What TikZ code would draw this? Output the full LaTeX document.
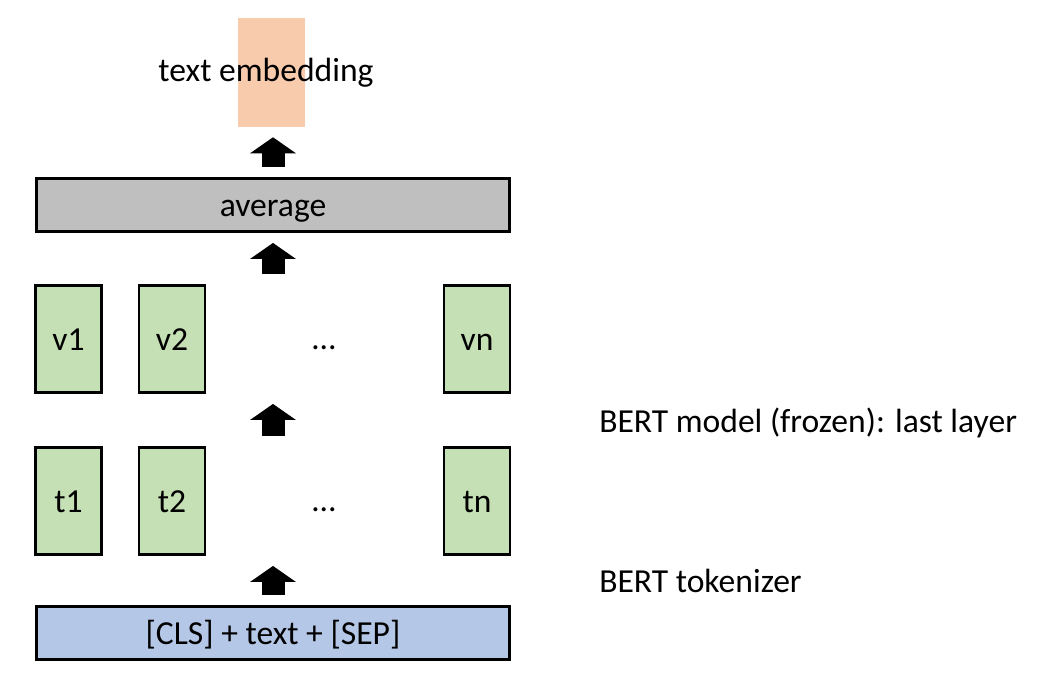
\documentclass[tikz,border=0pt]{standalone}
\usepackage{fontspec}
\setmainfont{Carlito}
\usetikzlibrary{arrows.meta}

\definecolor{avggray}{HTML}{BFBFBF}
\definecolor{tokblue}{HTML}{B4C7E7}
\definecolor{vecgreen}{HTML}{C5E0B4}
\definecolor{embpeach}{HTML}{F8CBAD}

\begin{document}
\begin{tikzpicture}[x=0.75pt,y=-0.75pt,
  font=\fontsize{25.2}{30}\selectfont,
  box/.style={draw=black,line width=1.9pt,inner sep=0pt,text height=17.6pt,text depth=0pt},
  widebox/.style={box,minimum width=355pt,minimum height=40pt},
  vecbox/.style={box,fill=vecgreen,minimum width=49.5pt,minimum height=80.5pt},
  uparrow/.style={line width=17.25pt,-{Triangle[width=33.75pt,length=12pt]},shorten <=7.5pt,shorten >=7.5pt},
  side/.style={anchor=base west,inner sep=0pt}]
\useasboundingbox (0,0) rectangle (1049,685);

% output embedding
\node[fill=embpeach,minimum width=50.25pt,minimum height=81.75pt,inner sep=0pt] (emb) at (271.5,72.5) {};
\node[anchor=base,inner sep=0pt] (embtext) at (266,82) {text embedding};

% pooling
\node[widebox,fill=avggray] (avg) at (273,205) {average};

% last layer vectors
\node[vecbox] (v1) at (68.5,339) {v1};
\node[vecbox] (v2) at (172,339) {v2};
\node[inner sep=0pt] (vdots) at (324,348) {…};
\node[vecbox] (vn) at (477,339) {vn};

% tokens
\node[vecbox] (t1) at (68.5,501) {t1};
\node[vecbox] (t2) at (172,501) {t2};
\node[inner sep=0pt] (tdots) at (324,510) {…};
\node[vecbox] (tn) at (477,501) {tn};

% input
\node[widebox,fill=tokblue] (tok) at (273,633) {[CLS] + text + [SEP]};

% arrows
\draw[uparrow] (tok.north) -- (tok.north |- t1.south);
\draw[uparrow] (tok.north |- t1.north) -- (tok.north |- v1.south);
\draw[uparrow] (avg.south |- v1.north) -- (avg.south);
\draw[uparrow] (avg.north) -- (avg.north |- emb.south);

\node[side] (bertlbl) at (599,432) {BERT model (frozen): last layer};
\node[side] (toklbl) at (599,592) {BERT tokenizer};
\end{tikzpicture}
\end{document}
